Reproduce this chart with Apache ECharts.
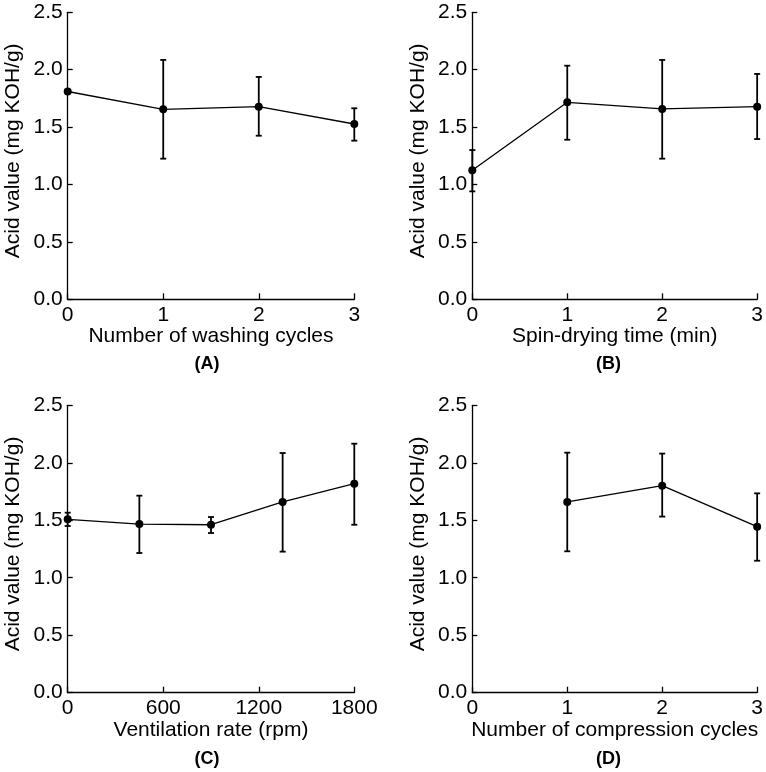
<!DOCTYPE html>
<html>
<head>
<meta charset="utf-8">
<script src="https://cdn.jsdelivr.net/npm/echarts@6/dist/echarts.min.js"></script>
<style>
html,body{margin:0;padding:0;background:#fff;}
#chart{width:766px;height:772px;}
</style>
</head>
<body>
<div id="chart"></div>
<script>
// Panel A: washing cycles
const xA = [0, 1, 2, 3];
const meanA = [1.81, 1.655, 1.678, 1.527];
const lowA  = [null, 1.225, 1.425, 1.382];
const highA = [null, 2.085, 1.937, 1.664];

// Panel B: spin-drying time
const xB = [0, 1, 2, 3];
const meanB = [1.124, 1.716, 1.658, 1.678];
const lowB  = [0.94, 1.39, 1.225, 1.396];
const highB = [1.30, 2.035, 2.085, 1.963];

// Panel C: ventilation rate
const xC = [0, 450, 900, 1350, 1800];
const meanC = [1.508, 1.467, 1.461, 1.659, 1.818];
const lowC  = [1.45, 1.215, 1.389, 1.227, 1.461];
const highC = [1.566, 1.714, 1.528, 2.085, 2.166];

// Panel D: compression cycles
const xD = [1, 2, 3];
const meanD = [1.659, 1.801, 1.444];
const lowD  = [1.23, 1.532, 1.148];
const highD = [2.088, 2.08, 1.734];

const xNames = ['Number of washing cycles', 'Spin-drying time (min)', 'Ventilation rate (rpm)', 'Number of compression cycles'];
const yName = 'Acid value (mg KOH/g)';
const panelLabels = ['(A)', '(B)', '(C)', '(D)'];

const FONT = 'Liberation Sans, Arial, sans-serif';
const grids = [
  {left: 67.7, top: 12.3, width: 286.6, height: 287},
  {left: 472.3, top: 12.3, width: 286.4, height: 287},
  {left: 67.7, top: 405.3, width: 286.6, height: 287.4},
  {left: 472.3, top: 405.3, width: 286.4, height: 287.4}
];
const xRanges = [[0,3,1],[0,3,1],[0,1800,600],[0,3,1]];

const axisLine = {show: true, lineStyle: {color: '#000', width: 1.3}};
const xAxes = grids.map((g, i) => ({
  gridIndex: i, type: 'value', min: xRanges[i][0], max: xRanges[i][1], interval: xRanges[i][2],
  axisLine: axisLine, splitLine: {show: false},
  axisTick: {show: true, inside: true, length: 6, lineStyle: {color: '#000', width: 1.3}},
  axisLabel: {color: '#000', fontSize: 21, fontFamily: FONT, margin: 5, formatter: v => String(v)},
  name: xNames[i], nameLocation: 'middle', nameGap: 26,
  nameTextStyle: {color: '#000', fontSize: 21, fontFamily: FONT}
}));
const yAxes = grids.map((g, i) => ({
  gridIndex: i, type: 'value', min: 0, max: 2.5, interval: 0.5,
  axisLine: axisLine, splitLine: {show: false},
  axisTick: {show: true, inside: true, length: 5, lineStyle: {color: '#000', width: 1.3}},
  axisLabel: {color: '#000', fontSize: 21, fontFamily: FONT, margin: 5, formatter: v => v.toFixed(1)},
  name: yName, nameLocation: 'middle', nameGap: 44,
  nameTextStyle: {color: '#000', fontSize: 21, fontFamily: FONT, padding: [0, 0, 0, 10]}
}));

const panels = [
  [xA, meanA, lowA, highA],
  [xB, meanB, lowB, highB],
  [xC, meanC, lowC, highC],
  [xD, meanD, lowD, highD]
];

const series = [];
panels.forEach((p, i) => {
  const [xs, m, lo, hi] = p;
  const errData = [];
  xs.forEach((x, k) => { if (lo[k] != null) errData.push([x, lo[k], hi[k]]); });
  series.push({
    type: 'custom', xAxisIndex: i, yAxisIndex: i, z: 2,
    data: errData,
    renderItem: function (params, api) {
      const x = api.value(0);
      const a = api.coord([x, api.value(1)]);
      const b = api.coord([x, api.value(2)]);
      const hw = 3;
      const st = {stroke: '#000', lineWidth: 1.8};
      return {type: 'group', children: [
        {type: 'line', shape: {x1: a[0], y1: a[1], x2: b[0], y2: b[1]}, style: st},
        {type: 'line', shape: {x1: a[0]-hw, y1: a[1], x2: a[0]+hw, y2: a[1]}, style: st},
        {type: 'line', shape: {x1: b[0]-hw, y1: b[1], x2: b[0]+hw, y2: b[1]}, style: st}
      ]};
    }
  });
  series.push({
    type: 'line', xAxisIndex: i, yAxisIndex: i, z: 3,
    data: xs.map((x, k) => [x, m[k]]),
    symbol: 'circle', symbolSize: 8,
    itemStyle: {color: '#000'},
    lineStyle: {color: '#000', width: 1.3},
    animation: false
  });
});

const labelPos = [[207, 364.5], [608.5, 364.5], [207, 759], [608.5, 759]];
const graphic = panelLabels.map((t, i) => ({
  type: 'text', x: labelPos[i][0], y: labelPos[i][1],
  style: {text: t, fill: '#000', font: 'bold 18px ' + FONT, textAlign: 'center', textVerticalAlign: 'middle'}
}));

const chart = echarts.init(document.getElementById('chart'));
chart.setOption({
  animation: false,
  backgroundColor: '#fff',
  grid: grids,
  xAxis: xAxes,
  yAxis: yAxes,
  series: series,
  graphic: graphic
});
</script>
</body>
</html>
